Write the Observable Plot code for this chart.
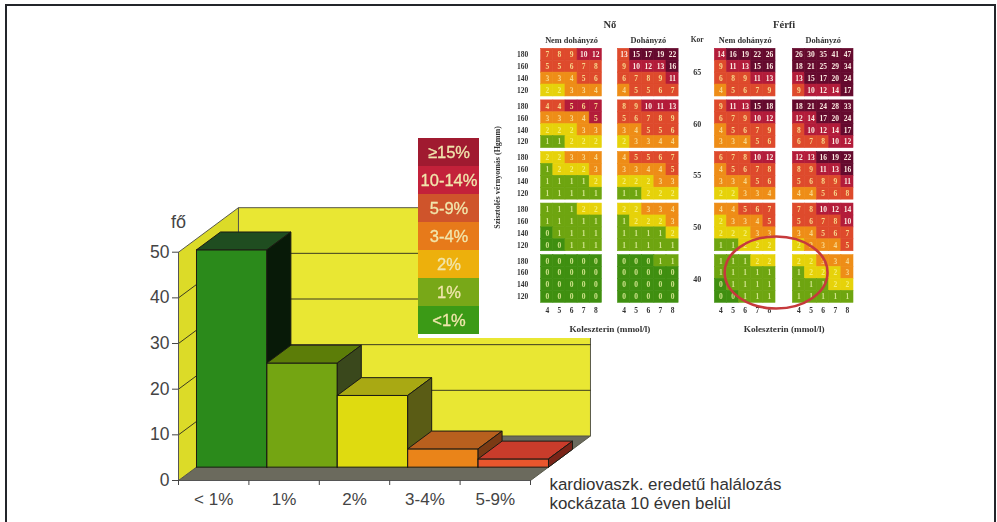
<!DOCTYPE html>
<html lang="hu">
<head>
<meta charset="utf-8">
<title>Kardiovaszkuláris kockázat</title>
<script src="https://cdn.jsdelivr.net/npm/d3@7"></script>
<script src="https://cdn.jsdelivr.net/npm/@observablehq/plot@0.6"></script>
<style>
  html, body { margin: 0; background: #fff; }
  #stage { position: relative; width: 997px; height: 522px; overflow: hidden; background: #fff; }
  #stage > * { position: absolute; }
  #stage svg { display: block; background: transparent; }
  #bars { left: 0; top: 0; }
  #risk { left: 418px; top: 8px; width: 571px; height: 330px; background: #fff; }
  #risk svg { filter: blur(0.7px); }
  #key { left: 418px; top: 137px; }
  #key svg { filter: blur(0.4px); }
  #frame { left: 5px; top: 4px; width: 987px; height: 530px; border: 2px solid #23252a; border-bottom: 0; }
</style>
</head>
<body>
<div id="stage">
  <div id="bars"></div>
  <div id="risk"></div>
  <div id="key"></div>
  <div id="frame"></div>
</div>
<script>
// Number of people in each ten-year risk band
const riskBands = ["< 1%", "1%", "2%", "3-4%", "5-9%"];
const people = [47.6, 22.8, 15.7, 4, 1.8];
const frontColors = ["#2b8a1b", "#74a512", "#dfdb10", "#ea8419", "#e8562d"];
const topColors = ["#1f4d20", "#5c7d08", "#a9a913", "#b8601e", "#c93c2b"];
const sideColors = ["#081a08", "#3a481c", "#5a5c15", "#7a3a14", "#7a2418"];
const valueTicks = [0, 10, 20, 30, 40, 50];

// Risk key
const keyLabels = ["≥15%", "10-14%", "5-9%", "3-4%", "2%", "1%", "<1%"];
const keyColors = ["#a01a30", "#c3213a", "#cf542b", "#e77a1a", "#edb00c", "#78a818", "#3b9a16"];

// Risk table: five ages, four blood pressure rows, five cholesterol columns
const ages = [65, 60, 55, 50, 40];
const pressures = [180, 160, 140, 120];
const cholesterol = [4, 5, 6, 7, 8];
const womenNonSmokers = [
  [7, 8, 9, 10, 12], [5, 5, 6, 7, 8], [3, 3, 4, 5, 6], [2, 2, 3, 3, 4],
  [4, 4, 5, 6, 7], [3, 3, 3, 4, 5], [2, 2, 2, 3, 3], [1, 1, 2, 2, 2],
  [2, 2, 3, 3, 4], [1, 2, 2, 2, 3], [1, 1, 1, 1, 2], [1, 1, 1, 1, 1],
  [1, 1, 1, 2, 2], [1, 1, 1, 1, 1], [0, 1, 1, 1, 1], [0, 0, 1, 1, 1],
  [0, 0, 0, 0, 0], [0, 0, 0, 0, 0], [0, 0, 0, 0, 0], [0, 0, 0, 0, 0]
];
const womenSmokers = [
  [13, 15, 17, 19, 22], [9, 10, 12, 13, 16], [6, 7, 8, 9, 11], [4, 5, 5, 6, 7],
  [8, 9, 10, 11, 13], [5, 6, 7, 8, 9], [3, 4, 5, 5, 6], [2, 3, 3, 4, 4],
  [4, 5, 5, 6, 7], [3, 3, 4, 4, 5], [2, 2, 2, 3, 3], [1, 1, 2, 2, 2],
  [2, 2, 3, 3, 4], [1, 2, 2, 2, 3], [1, 1, 1, 1, 2], [1, 1, 1, 1, 1],
  [0, 0, 0, 1, 1], [0, 0, 0, 0, 0], [0, 0, 0, 0, 0], [0, 0, 0, 0, 0]
];
const menNonSmokers = [
  [14, 16, 19, 22, 26], [9, 11, 13, 15, 16], [6, 8, 9, 11, 13], [4, 5, 6, 7, 9],
  [9, 11, 13, 15, 18], [6, 7, 9, 10, 12], [4, 5, 6, 7, 9], [3, 3, 4, 5, 6],
  [6, 7, 8, 10, 12], [4, 5, 6, 7, 8], [3, 3, 4, 5, 6], [2, 2, 3, 3, 4],
  [4, 4, 5, 6, 7], [2, 3, 3, 4, 5], [2, 2, 2, 3, 3], [1, 1, 2, 2, 2],
  [1, 1, 1, 2, 2], [1, 1, 1, 1, 1], [0, 1, 1, 1, 1], [0, 0, 1, 1, 1]
];
const menSmokers = [
  [26, 30, 35, 41, 47], [18, 21, 25, 29, 34], [13, 15, 17, 20, 24], [9, 10, 12, 14, 17],
  [18, 21, 24, 28, 33], [12, 14, 17, 20, 24], [8, 10, 12, 14, 17], [6, 7, 8, 10, 12],
  [12, 13, 16, 19, 22], [8, 9, 11, 13, 16], [5, 6, 8, 9, 11], [4, 4, 5, 6, 8],
  [7, 8, 10, 12, 14], [5, 6, 7, 8, 10], [3, 4, 5, 6, 7], [2, 3, 3, 4, 5],
  [2, 2, 3, 3, 4], [1, 2, 2, 2, 3], [1, 1, 1, 2, 2], [1, 1, 1, 1, 1]
];
const tablePanels = [womenNonSmokers, womenSmokers, menNonSmokers, menSmokers];
const panelNames = ["Nem dohányzó", "Dohányzó", "Nem dohányzó", "Dohányzó"];
const sexes = ["Nő", "Férfi"];
const riskThresholds = [1, 2, 3, 5, 10, 15];
const riskColors = ["#3f8f10", "#6ea510", "#e6d20a", "#ee8d17", "#de4a2c", "#b31c3a", "#650a2e"];

// Cells printed in another band's shade on the chart: panel, row, column, shade
const printedShades = [
  [0, 0, 3, 11], [0, 0, 4, 11], [0, 4, 2, 11], [0, 4, 3, 11], [0, 4, 4, 11], [0, 5, 4, 11],
  [0, 4, 0, 5], [0, 4, 1, 5], [1, 0, 0, 9]
];

const AXIS_FONT = "'Liberation Sans', Arial, sans-serif";
const TABLE_FONT = "'Liberation Serif', 'Times New Roman', serif";

// Oblique depth of the 3D box, in category and value units
const DEPTH_X = 0.852;
const DEPTH_Y = 9.75;
const BAR_NEAR = 0.3;
const BAR_FAR = 0.7;
const project = (c, v, d) => ({x: c + d * DEPTH_X, y: v + d * DEPTH_Y});

function face(id, fill, corners) {
  const pts = corners.concat([corners[0]]);
  return pts.map(([c, v, d]) => ({id, fill, ...project(c, v, d)}));
}

const box = [
  ...face("floor", "#6b6a5d", [[0, 0, 0], [5, 0, 0], [5, 0, 1], [0, 0, 1]]),
  ...face("left", "#dcdb28", [[0, 0, 0], [0, 50, 0], [0, 50, 1], [0, 0, 1]]),
  ...face("back", "#e9e733", [[0, 0, 1], [0, 50, 1], [5, 50, 1], [5, 0, 1]])
];

const gridLines = valueTicks.slice(1, -1).flatMap((v) => [
  {id: v, ...project(0, v, 0)},
  {id: v, ...project(0, v, 1)},
  {id: v, ...project(5, v, 1)}
]);

const barFaces = people.flatMap((v, i) => [
  ...face(`front${i}`, frontColors[i], [[i, 0, BAR_NEAR], [i, v, BAR_NEAR], [i + 1, v, BAR_NEAR], [i + 1, 0, BAR_NEAR]]),
  ...face(`top${i}`, topColors[i], [[i, v, BAR_NEAR], [i, v, BAR_FAR], [i + 1, v, BAR_FAR], [i + 1, v, BAR_NEAR]]),
  ...face(`side${i}`, sideColors[i], [[i + 1, 0, BAR_NEAR], [i + 1, v, BAR_NEAR], [i + 1, v, BAR_FAR], [i + 1, 0, BAR_FAR]])
]);

const barChart = Plot.plot({
  width: 997,
  height: 522,
  marginLeft: 178,
  marginRight: 467,
  marginTop: 251.7,
  marginBottom: 42,
  style: {fontFamily: AXIS_FONT, overflow: "visible"},
  x: {domain: [0, 5]},
  y: {domain: [0, 50]},
  marks: [
    Plot.line(box, {x: "x", y: "y", z: "id", fill: "fill", stroke: "#59594a", strokeWidth: 1}),
    Plot.line(gridLines, {x: "x", y: "y", z: "id", stroke: "#3b3b22", strokeWidth: 1}),
    Plot.line(barFaces, {x: "x", y: "y", z: "id", fill: "fill", stroke: "#1b1b14", strokeWidth: 1}),
    Plot.ruleX([0], {y1: 0, y2: 50, stroke: "#555"}),
    Plot.ruleY([0], {x1: 0, x2: 5, stroke: "#555"}),
    Plot.axisY({ticks: valueTicks, tickSize: 6, tickPadding: 3, fontSize: 17.5, color: "#444", label: null}),
    Plot.axisX({ticks: d3.range(6), tickSize: 5, tickFormat: () => "", label: null, color: "#444"}),
    Plot.text(riskBands, {x: (d, i) => i + 0.5, y: 0, text: (d) => d, dy: 19, fontSize: 17, fill: "#444"}),
    Plot.text(["fő"], {x: 0, y: 56.5, fontSize: 18, fill: "#444"}),
    Plot.text(["kardiovaszk. eredetű halálozás\nkockázata 10 éven belül"], {
      x: 5.27, y: -1.1, text: (d) => d, textAnchor: "start", lineAnchor: "bottom",
      lineHeight: 1.12, dy: 23, fontSize: 16.9, fill: "#333"
    })
  ]
});
document.getElementById("bars").append(barChart);

// Layout of the table, in cell units
const AGE_STEP = 4.33;
const panelOffsets = [0, 6.33, 14.32, 20.75];
const shadeOf = (p, r, c, risk) => {
  const hit = printedShades.find((s) => s[0] === p && s[1] === r && s[2] === c);
  return hit ? hit[3] : risk;
};
const tableCells = tablePanels.flatMap((panel, p) =>
  panel.flatMap((row, r) =>
    row.map((risk, c) => {
      const ageIndex = Math.floor(r / 4);
      const top = ageIndex * AGE_STEP + (r % 4);
      const left = panelOffsets[p] + c;
      return {risk, shade: shadeOf(p, r, c, risk), left, top};
    })
  )
);
const pressureLabels = ages.flatMap((a, i) =>
  pressures.map((bp, r) => ({bp, top: i * AGE_STEP + r + 0.5}))
);
const ageLabels = ages.map((age, i) => ({age, top: i * AGE_STEP + 2}));
const cholesterolLabels = panelOffsets.flatMap((off) =>
  cholesterol.map((chol, c) => ({chol, left: off + c + 0.5}))
);

// Hand-drawn circle around the youngest male non-smokers
const ringMark = (index, {x, y}) => {
  const ring = {cx: 19.41, cy: 18.82, rx: 4.24, ry: 3.02};
  const cx = x(ring.cx), cy = y(ring.cy);
  const node = d3.create("svg:ellipse")
    .attr("cx", cx)
    .attr("cy", cy)
    .attr("rx", x(ring.cx + ring.rx) - cx)
    .attr("ry", y(ring.cy + ring.ry) - cy)
    .attr("fill", "none")
    .attr("stroke", "#c63a3c")
    .attr("stroke-width", 2.6);
  return node.node();
};

const labelText = {fontFamily: TABLE_FONT, fontWeight: "bold", fill: "#333"};
const tableChart = Plot.plot({
  width: 571,
  height: 329,
  marginLeft: 122.7,
  marginRight: 136,
  marginTop: 40.3,
  marginBottom: 34.7,
  style: {fontFamily: TABLE_FONT, overflow: "visible"},
  x: {domain: [0, 25.75], axis: null},
  y: {domain: [4 * AGE_STEP + 4, 0], axis: null},
  color: {type: "threshold", domain: riskThresholds, range: riskColors},
  marks: [
    Plot.rect(tableCells, {
      x1: "left", x2: (d) => d.left + 1, y1: "top", y2: (d) => d.top + 1,
      fill: "shade", stroke: "shade", strokeWidth: 0.6
    }),
    Plot.text(tableCells, {
      x: (d) => d.left + 0.5, y: (d) => d.top + 0.5, text: "risk",
      fontSize: 7.5, fontWeight: "bold",
      fill: (d) => (d.risk >= 10 ? "#fbe9e0" : d.risk === 2 ? "#f4ee70" : d.risk < 2 ? "#cfe38a" : "#f7d68a")
    }),
    Plot.text(pressureLabels, {x: 0, y: "top", text: "bp", dx: -13, textAnchor: "end", fontSize: 7.5, ...labelText}),
    Plot.text(ageLabels, {x: 12.86, y: "top", text: "age", fontSize: 8, ...labelText}),
    Plot.text(["Kor"], {x: 12.86, y: -0.75, fontSize: 7.5, ...labelText}),
    Plot.text(cholesterolLabels, {x: "left", y: 21.97, text: "chol", fontSize: 7.5, ...labelText}),
    Plot.text(panelNames, {x: (d, i) => panelOffsets[i] + 2.5, y: -0.75, text: (d) => d, fontSize: 8.3, ...labelText}),
    Plot.text(sexes, {x: (d, i) => (panelOffsets[2 * i] + panelOffsets[2 * i + 1] + 5) / 2, y: -2.05, text: (d) => d, fontSize: 10.5, ...labelText}),
    Plot.text(sexes, {x: (d, i) => (panelOffsets[2 * i] + panelOffsets[2 * i + 1] + 5) / 2, y: 23.5, text: () => "Koleszterin (mmol/l)", fontSize: 9.2, ...labelText}),
    Plot.text(["Szisztolés vérnyomás (Hgmm)"], {x: -3.6, y: 10.8, rotate: -90, fontSize: 8, ...labelText}),
    ringMark
  ]
});
document.getElementById("risk").append(tableChart);

// Colour key beside the chart
const keyChart = Plot.plot({
  width: 61,
  height: 198,
  margin: 0,
  style: {fontFamily: AXIS_FONT, overflow: "visible"},
  x: {axis: null},
  y: {domain: keyLabels, padding: 0, axis: null},
  marks: [
    Plot.cell(keyLabels, {y: (d) => d, fill: (d, i) => keyColors[i]}),
    Plot.text(keyLabels, {
      y: (d) => d, text: (d) => d, frameAnchor: "middle", fontSize: 16.5,
      fill: "#f1e6ac", stroke: "#f1e6ac", strokeWidth: 0.3
    })
  ]
});
document.getElementById("key").append(keyChart);
</script>
</body>
</html>
